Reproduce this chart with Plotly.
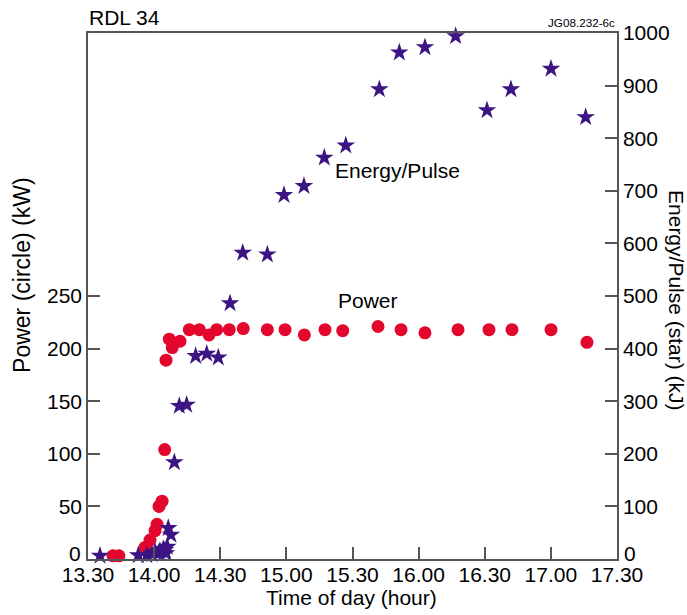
import plotly.graph_objects as go

# Time of day in decimal hours (13.5 = 13.30)
power_time = [13.689, 13.734, 13.931, 13.969, 14.007, 14.022, 14.037, 14.060, 14.080,
              14.090, 14.115, 14.137, 14.196, 14.266, 14.342, 14.415, 14.473, 14.568,
              14.674, 14.856, 14.990, 15.136, 15.292, 15.426, 15.693, 15.867, 16.048,
              16.298, 16.532, 16.706, 17.001, 17.273]
power_kw = [3, 3, 11, 18, 27, 33, 50, 55, 104,
            189, 209, 201, 207, 218, 218, 213, 218, 218,
            219, 218, 218, 213, 218, 217, 221, 218, 215,
            218, 218, 218, 218, 206]

energy_time = [13.591, 13.880, 13.944, 13.984, 14.007, 14.032, 14.044, 14.069, 14.082,
               14.090, 14.100, 14.107, 14.127, 14.153, 14.190, 14.246, 14.314, 14.398,
               14.485, 14.574, 14.670, 14.856, 14.982, 15.133, 15.287, 15.449, 15.703,
               15.854, 16.048, 16.280, 16.517, 16.698, 17.001, 17.263]
energy_kj = [6, 7, 7, 9, 13, 11, 15, 19, 17,
             11, 23, 59, 46, 184, 291, 293, 386, 390,
             383, 486, 582, 579, 692, 709, 763, 786, 893,
             963, 973, 994, 853, 893, 932, 840]

x_tickvals = [13.5, 14.0, 14.5, 15.0, 15.5, 16.0, 16.5, 17.0, 17.5]
x_ticktext = ["13.30", "14.00", "14.30", "15.00", "15.30", "16.00", "16.30", "17.00", "17.30"]
left_tickvals = [0, 50, 100, 150, 200, 250]
left_ticktext = ["", "50", "100", "150", "200", "250"]   # "0" drawn as raised annotation
right_tickvals = [0, 100, 200, 300, 400, 500, 600, 700, 800, 900, 1000]
right_ticktext = ["", "100", "200", "300", "400", "500", "600", "700", "800", "900", "1000"]

FONT = "Liberation Sans, Arial, sans-serif"
RED = "#e3072d"
PURPLE = "#3c1483"
AXIS = "#555555"
TICK_SIZE = 21

fig = go.Figure()
fig.add_trace(go.Scatter(
    x=power_time, y=power_kw, mode="markers", yaxis="y", cliponaxis=False,
    marker=dict(symbol="circle", size=13, color=RED, line=dict(width=0)),
    showlegend=False))
fig.add_trace(go.Scatter(
    x=energy_time, y=energy_kj, mode="markers", yaxis="y2", cliponaxis=False,
    marker=dict(symbol="star", size=14, color=PURPLE, line=dict(width=0)),
    showlegend=False))

axis_common = dict(showgrid=False, zeroline=False, showline=True, linecolor=AXIS,
                   linewidth=1.5, ticks="inside", ticklen=12, tickcolor=AXIS, tickwidth=1.5,
                   tickfont=dict(family=FONT, size=TICK_SIZE, color="black"))

fig.update_layout(
    width=687, height=615,
    margin=dict(l=88, r=70, t=33, b=56),
    paper_bgcolor="white", plot_bgcolor="white",
    font=dict(family=FONT, color="black"),
    xaxis=dict(range=[13.5, 17.5], tickvals=x_tickvals, ticktext=x_ticktext,
               mirror=True, ticklabelstandoff=-4, **axis_common),
    yaxis=dict(range=[0, 500], tickvals=left_tickvals, ticktext=left_ticktext, **axis_common),
    yaxis2=dict(range=[0, 1000], tickvals=right_tickvals, ticktext=right_ticktext,
                overlaying="y", side="right", **axis_common),
    annotations=[
        dict(text="Energy/Pulse", x=15.844, y=739, xref="x", yref="y2", showarrow=False,
             font=dict(family=FONT, size=21)),
        dict(text="Power", x=15.617, y=492, xref="x", yref="y2", showarrow=False,
             font=dict(family=FONT, size=21)),
        dict(text="RDL 34", x=-0.002, y=1.0304, xref="paper", yref="paper", showarrow=False,
             xanchor="left", yanchor="middle", font=dict(family=FONT, size=21)),
        dict(text="JG08.232-6c", x=1.0, y=1.0209, xref="paper", yref="paper", showarrow=False,
             xanchor="right", yanchor="middle", font=dict(family=FONT, size=11.7)),
        dict(text="0", x=-0.0076, y=0.0114, xref="paper", yref="paper", showarrow=False,
             xanchor="right", yanchor="middle", xshift=-1,
             font=dict(family=FONT, size=TICK_SIZE)),
        dict(text="0", x=1.0095, y=0.0114, xref="paper", yref="paper", showarrow=False,
             xanchor="left", yanchor="middle",
             font=dict(family=FONT, size=TICK_SIZE)),
        dict(text="Time of day (hour)", x=0.499, y=-0.0741, xref="paper", yref="paper",
             showarrow=False, xanchor="center", yanchor="middle", font=dict(family=FONT, size=21)),
        dict(text="Power (circle) (kW)", x=-0.1248, y=0.54, xref="paper", yref="paper",
             showarrow=False, textangle=-90, xanchor="center", yanchor="middle",
             font=dict(family=FONT, size=23)),
        dict(text="Energy/Pulse (star) (kJ)", x=1.1115, y=0.4905, xref="paper", yref="paper",
             showarrow=False, textangle=90, xanchor="center", yanchor="middle",
             font=dict(family=FONT, size=21)),
    ],
)

fig.write_html("out.html")
